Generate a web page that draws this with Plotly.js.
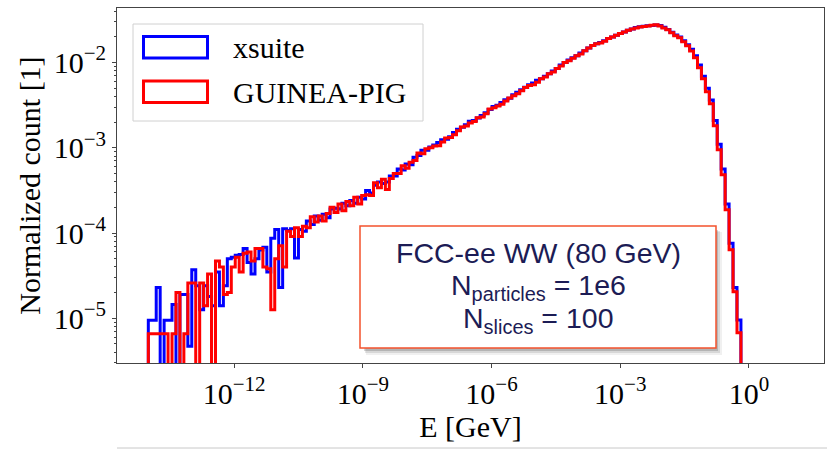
<!DOCTYPE html>
<html><head><meta charset="utf-8">
<script src="https://cdn.plot.ly/plotly-3.0.1.min.js"></script>
<style>html,body{margin:0;padding:0;background:#fff;} #chart{width:827px;height:449px;}</style>
</head><body><div id="chart"></div>
<script>
// Histogram binning (log10 of bin edges, GeV)
const binLogMin = -14.0;
const binLogMax = -0.186;
const nBins = 150;

// Normalized counts per bin (0 = empty bin)
const xsuite = [
 9.5e-6, 9.5e-6, 2.3e-5, 0, 9.5e-6, 9.5e-6, 1.45e-5, 0, 1.9e-5, 1.9e-5,
 4.7e-6, 3.7e-5, 2.4e-5, 1.26e-5, 2.4e-5, 1.8e-5, 1.4e-5, 3.5e-5, 1.4e-5, 2.4e-5,
 5.0e-5, 5.2e-5, 5.5e-5, 5.6e-5, 6.6e-5, 4.5e-5, 3.3e-5, 5.0e-5, 6.3e-5, 6.8e-5,
 3.5e-5, 8.7e-5, 1.1e-4, 2.3e-5, 1.12e-4, 1.07e-4, 1.12e-4, 5.1e-5, 1.1e-4, 1.05e-4,
 1.38e-4, 1.26e-4, 1.58e-4, 1.41e-4, 1.66e-4, 1.51e-4, 1.91e-4, 1.95e-4, 1.91e-4, 2.24e-4,
 2.09e-4, 2.4e-4, 2.24e-4, 2.63e-4, 2.51e-4, 3.16e-4, 2.95e-4, 3.63e-4, 3.98e-4, 3.8e-4,
 3.98e-4, 4.68e-4, 4.68e-4, 5.62e-4, 5.5e-4, 6.46e-4, 6.31e-4, 7.76e-4, 8.13e-4, 9.33e-4,
 9.33e-4, 1.02e-3, 1.08e-3, 1.15e-3, 1.24e-3, 1.26e-3, 1.35e-3, 1.51e-3, 1.65e-3, 1.74e-3,
 1.86e-3, 2.05e-3, 2.09e-3, 2.24e-3, 2.4e-3, 2.57e-3, 2.82e-3, 3.05e-3, 3.16e-3, 3.39e-3,
 3.65e-3, 3.8e-3, 4.2e-3, 4.47e-3, 4.8e-3, 5.13e-3, 5.5e-3, 5.75e-3, 6.2e-3, 6.46e-3,
 6.92e-3, 7.41e-3, 7.94e-3, 8.51e-3, 9.33e-3, 1.0e-2, 1.07e-2, 1.14e-2, 1.2e-2, 1.29e-2,
 1.38e-2, 1.48e-2, 1.58e-2, 1.66e-2, 1.72e-2, 1.8e-2, 1.91e-2, 2.0e-2, 2.09e-2, 2.19e-2,
 2.29e-2, 2.4e-2, 2.48e-2, 2.57e-2, 2.63e-2, 2.66e-2, 2.7e-2, 2.72e-2, 2.75e-2, 2.72e-2,
 2.6e-2, 2.45e-2, 2.26e-2, 2.11e-2, 2.0e-2, 1.8e-2, 1.62e-2, 1.43e-2, 1.2e-2, 9.33e-3,
 6.92e-3, 5.01e-3, 3.63e-3, 2.09e-3, 1.1e-3, 5.62e-4, 2.19e-4, 7.59e-5, 2.29e-5, 9.55e-6
];
const guineaPig = [
 6.6e-6, 6.6e-6, 6.6e-6, 6.6e-6, 6.6e-6, 0, 6.6e-6, 2.0e-5, 0, 6.6e-6,
 2.6e-5, 2.6e-5, 0, 2.6e-5, 1.4e-5, 3.3e-5, 0, 4.7e-5, 4.0e-5, 1.9e-5,
 2.0e-5, 4.0e-5, 5.2e-5, 3.5e-5, 5.8e-5, 6.0e-5, 4.7e-5, 6.6e-5, 6.6e-5, 4.0e-5,
 3.8e-5, 1.26e-5, 5.0e-5, 7.1e-5, 4.0e-5, 1.05e-4, 9.1e-5, 1.15e-4, 9.1e-5, 1.2e-4,
 1.15e-4, 1.55e-4, 1.35e-4, 1.58e-4, 1.38e-4, 1.7e-4, 2.0e-4, 1.74e-4, 2.19e-4, 1.82e-4,
 2.34e-4, 2.09e-4, 2.63e-4, 2.19e-4, 2.75e-4, 2.82e-4, 2.75e-4, 3.89e-4, 3.39e-4, 4.27e-4,
 3.24e-4, 4.37e-4, 5.0e-4, 5.0e-4, 6.17e-4, 5.75e-4, 6.76e-4, 7.08e-4, 8.71e-4, 8.51e-4,
 9.77e-4, 1.0e-3, 1.05e-3, 1.06e-3, 1.17e-3, 1.3e-3, 1.32e-3, 1.42e-3, 1.58e-3, 1.75e-3,
 1.8e-3, 1.95e-3, 2.04e-3, 2.25e-3, 2.29e-3, 2.5e-3, 2.85e-3, 2.95e-3, 3.09e-3, 3.25e-3,
 3.55e-3, 3.85e-3, 4.07e-3, 4.3e-3, 4.68e-3, 5.1e-3, 5.37e-3, 5.5e-3, 5.89e-3, 6.46e-3,
 6.76e-3, 7.41e-3, 7.76e-3, 8.51e-3, 9.12e-3, 1.0e-2, 1.05e-2, 1.12e-2, 1.2e-2, 1.26e-2,
 1.38e-2, 1.48e-2, 1.58e-2, 1.66e-2, 1.7e-2, 1.78e-2, 1.91e-2, 2.0e-2, 2.09e-2, 2.19e-2,
 2.29e-2, 2.4e-2, 2.48e-2, 2.55e-2, 2.62e-2, 2.65e-2, 2.69e-2, 2.73e-2, 2.77e-2, 2.69e-2,
 2.55e-2, 2.42e-2, 2.23e-2, 2.06e-2, 1.95e-2, 1.75e-2, 1.57e-2, 1.37e-2, 1.14e-2, 8.67e-3,
 6.44e-3, 4.53e-3, 3.28e-3, 1.81e-3, 9.48e-4, 4.82e-4, 1.87e-4, 6.37e-5, 2.05e-5, 6.78e-6
];

const seriesNames = ['xsuite', 'GUINEA-PIG'];
const xTickVals = [1e-12, 1e-9, 1e-6, 1e-3, 1];
const xTickText = ['10<sup>\u221212</sup>', '10<sup>\u22129</sup>', '10<sup>\u22126</sup>', '10<sup>\u22123</sup>', '10<sup>0</sup>'];
const yTickVals = [1e-5, 1e-4, 1e-3, 1e-2];
const yTickText = ['10<sup>\u22125</sup>', '10<sup>\u22124</sup>', '10<sup>\u22123</sup>', '10<sup>\u22122</sup>'];
const boxLines = ['FCC-ee WW (80 GeV)', 'N<sub>particles</sub> = 1e6', 'N<sub>slices</sub> = 100'];

// ---- build step histogram ----
const edges = [];
for (let i = 0; i <= nBins; i++) edges.push(Math.pow(10, binLogMin + i * (binLogMax - binLogMin) / nBins));
const FLOOR = 1e-9;
function stepXY(vals) {
  const xs = [edges[0]], ys = [FLOOR];
  for (let i = 0; i < vals.length; i++) { xs.push(edges[i]); ys.push(vals[i] > 0 ? vals[i] : FLOOR); }
  xs.push(edges[vals.length]); ys.push(FLOOR);
  return {xs, ys};
}
const b = stepXY(xsuite), r = stepXY(guineaPig);
const traces = [
  {x: b.xs, y: b.ys, type: 'scatter', mode: 'lines', name: seriesNames[0],
   line: {color: '#0000ff', width: 3, shape: 'hv', simplify: false}, showlegend: false},
  {x: r.xs, y: r.ys, type: 'scatter', mode: 'lines', name: seriesNames[1],
   line: {color: '#ff0000', width: 3, shape: 'hv', simplify: false}, showlegend: false}
];

// pixel -> paper helpers for layout decorations
const W = 827, H = 449, ML = 117, MR = 3, MT = 8, MB = 86;
const PW = W - ML - MR, PH = H - MT - MB;
const px = x => (x - ML) / PW;
const py = y => 1 - (y - MT) / PH;
function rect(x0, y0, x1, y1, line, fill) {
  return {type: 'rect', xref: 'paper', yref: 'paper', x0: px(x0), x1: px(x1), y0: py(y1), y1: py(y0),
          line: line, fillcolor: fill, layer: 'above'};
}
const serif = 'Liberation Serif, Times New Roman, serif';
const sans = 'Liberation Sans, Arial, sans-serif';
const navy = '#1c1c55';

const shapes = [
  // legend frame
  rect(133, 24, 423, 121, {color: '#d0d0d0', width: 1}, 'rgba(255,255,255,0.85)'),
  rect(143.5, 36.5, 207.5, 58, {color: '#0000ff', width: 3}, 'rgba(0,0,0,0)'),
  rect(143.5, 81, 207.5, 102.5, {color: '#ff0000', width: 3}, 'rgba(0,0,0,0)'),
  // text box shadow + box
  rect(366, 232, 722, 355, {width: 0}, 'rgba(0,0,0,0.06)'),
  rect(365, 231, 720, 353, {width: 0}, 'rgba(0,0,0,0.10)'),
  rect(364, 230, 718, 351, {width: 0}, 'rgba(0,0,0,0.16)'),
  rect(360, 226, 716, 348, {color: '#f4512c', width: 1.5}, '#ffffff'),
  // bottom separator
  {type: 'line', xref: 'paper', yref: 'paper', x0: px(117), x1: px(827), y0: py(448), y1: py(448),
   line: {color: '#c8c8c8', width: 1}, layer: 'above'}
];
const annotations = [
  {xref: 'paper', yref: 'paper', x: px(231), y: py(47.5), xanchor: 'left', yanchor: 'middle', showarrow: false,
   text: seriesNames[0], font: {family: serif, size: 30, color: '#000'}},
  {xref: 'paper', yref: 'paper', x: px(231), y: py(92), xanchor: 'left', yanchor: 'middle', showarrow: false,
   text: seriesNames[1], font: {family: serif, size: 30, color: '#000'}},
  {xref: 'paper', yref: 'paper', x: px(538), y: py(253), xanchor: 'center', yanchor: 'middle', showarrow: false,
   text: boxLines[0], font: {family: sans, size: 28.5, color: navy}},
  {xref: 'paper', yref: 'paper', x: px(538), y: py(287), xanchor: 'center', yanchor: 'middle', showarrow: false,
   text: boxLines[1], font: {family: sans, size: 28.5, color: navy}},
  {xref: 'paper', yref: 'paper', x: px(538), y: py(320), xanchor: 'center', yanchor: 'middle', showarrow: false,
   text: boxLines[2], font: {family: sans, size: 28.5, color: navy}}
];

const yMinor = [];
for (let d = -6; d <= -1; d++) for (let k = 2; k <= 9; k++) yMinor.push(k * Math.pow(10, d));

const layout = {
  width: W, height: H,
  margin: {l: ML, r: MR, t: MT, b: MB, pad: 0},
  paper_bgcolor: '#ffffff', plot_bgcolor: '#ffffff',
  showlegend: false,
  xaxis: {
    type: 'log', range: [-14.73, 1.75], autorange: false,
    tickmode: 'array', tickvals: xTickVals, ticktext: xTickText,
    ticks: 'outside', ticklen: 4, tickcolor: '#444', tickwidth: 1,
    showgrid: false, zeroline: false,
    showline: true, linecolor: '#444', linewidth: 1, mirror: true,
    tickfont: {family: serif, size: 30, color: '#000'},
    title: {text: 'E [GeV]', font: {family: serif, size: 30, color: '#000'}, standoff: 6},
    automargin: false
  },
  yaxis: {
    type: 'log', range: [-5.525, -1.36], autorange: false,
    tickmode: 'array', tickvals: yTickVals, ticktext: yTickText,
    ticks: 'outside', ticklen: 4, tickcolor: '#444', tickwidth: 1,
    minor: {tickmode: 'array', tickvals: yMinor, ticks: 'outside', ticklen: 2, tickcolor: '#444'},
    showgrid: false, zeroline: false,
    showline: true, linecolor: '#444', linewidth: 1, mirror: true,
    tickfont: {family: serif, size: 30, color: '#000'},
    title: {text: 'Normalized count [1]', font: {family: serif, size: 30, color: '#000'}, standoff: 4},
    automargin: false
  },
  shapes: shapes,
  annotations: annotations
};

Plotly.newPlot('chart', traces, layout, {staticPlot: true, displayModeBar: false});
</script>
</body></html>
